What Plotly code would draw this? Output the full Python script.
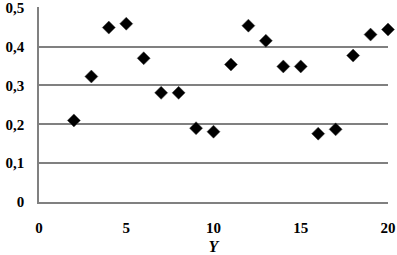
import plotly.graph_objects as go

x_vals = [2, 3, 4, 5, 6, 7, 8, 9, 10, 11, 12, 13, 14, 15, 16, 17, 18, 19, 20]
y_vals = [0.21, 0.323, 0.449, 0.459, 0.370, 0.281, 0.281, 0.19, 0.181, 0.354, 0.454,
          0.415, 0.349, 0.349, 0.176, 0.187, 0.377, 0.431, 0.444]
x_ticks = [0, 5, 10, 15, 20]
x_tick_labels = ["0", "5", "10", "15", "20"]
y_ticks = [0, 0.1, 0.2, 0.3, 0.4, 0.5]
y_tick_labels = ["0", "0,1", "0,2", "0,3", "0,4", "0,5"]

font_family = "Liberation Serif"

fig = go.Figure()
fig.add_trace(go.Scatter(
    x=x_vals, y=y_vals, mode="markers",
    marker=dict(symbol="diamond", size=10, color="black",
                line=dict(color="#444444", width=0.5)),
    cliponaxis=False, showlegend=False,
))

fig.update_layout(
    width=397, height=255,
    margin=dict(l=39, r=9, t=7, b=53),
    paper_bgcolor="white", plot_bgcolor="white",
    font=dict(family=font_family, size=15, color="black", weight="bold"),
    xaxis=dict(
        range=[0, 20], tickvals=x_ticks, ticktext=x_tick_labels, automargin=False,
        showgrid=False, zeroline=False, showline=True, linecolor="#808080", linewidth=1.5,
        ticks="", ticklabelstandoff=11,
        title=dict(text="Y", font=dict(family=font_family, size=16, style="italic", weight="bold"),
                   standoff=9),
    ),
    yaxis=dict(
        range=[0, 0.502], tickvals=y_ticks, ticktext=y_tick_labels, automargin=False,
        showgrid=True, gridcolor="#808080", gridwidth=1.5,
        zeroline=False, showline=True, linecolor="#808080", linewidth=1.5,
        ticks="", ticklabelstandoff=10,
    ),
)

fig.write_html("out.html", config={"displayModeBar": False},
               post_script="document.body.style.margin='0';document.body.style.overflow='hidden';")
